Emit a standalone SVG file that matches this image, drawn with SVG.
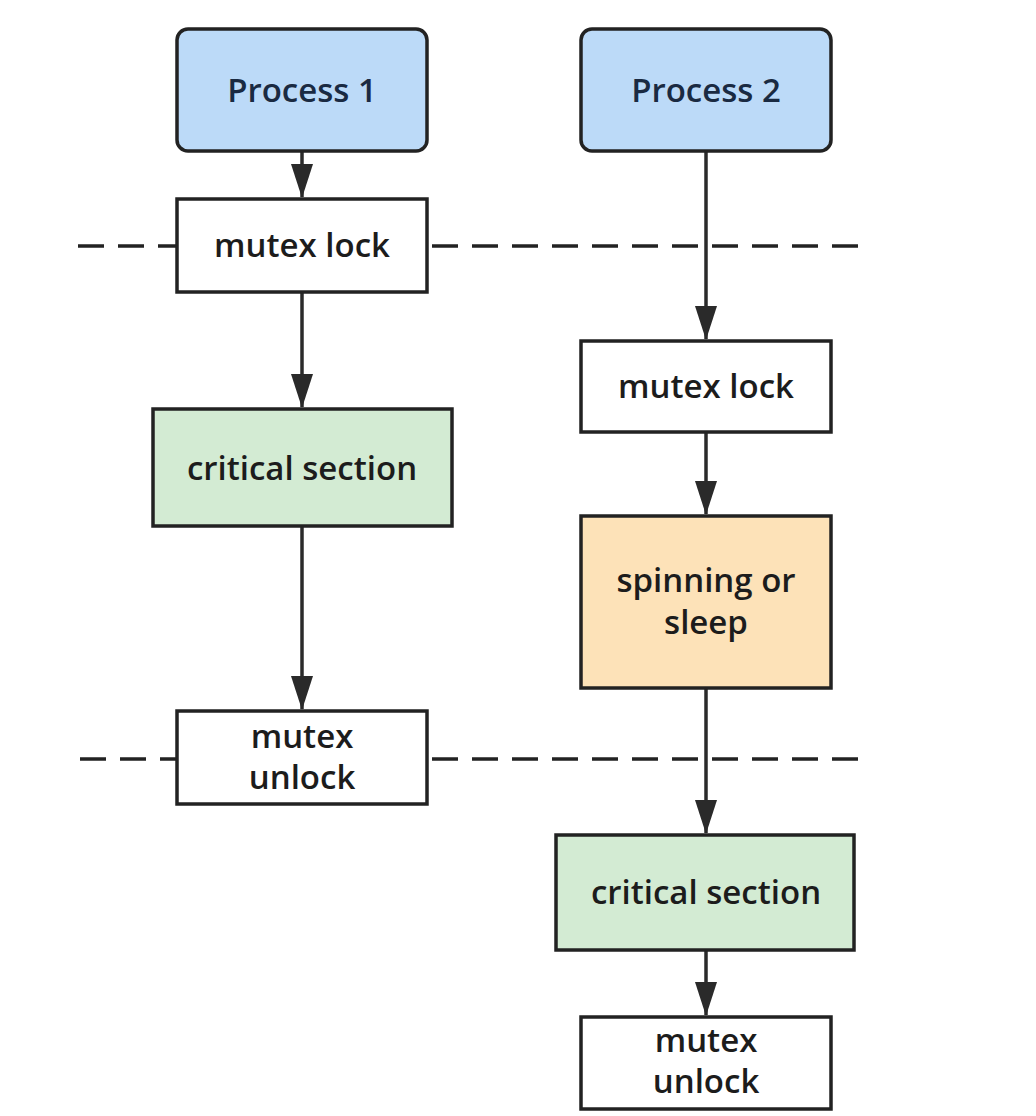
<svg xmlns="http://www.w3.org/2000/svg" width="1036" height="1116" viewBox="0 0 1036 1116">
<defs>
<marker id="ah" markerUnits="userSpaceOnUse" markerWidth="34" markerHeight="22" refX="33" refY="11" orient="auto" viewBox="0 0 34 22">
<path d="M0,0 L34,11 L0,22 Z" fill="#2a2a2a"/>
</marker>
</defs>
<style>
.box{stroke:#222;stroke-width:3.5}
.w{fill:#ffffff}
.b{fill:#bcdaf8}
.g{fill:#d3ebd3}
.o{fill:#fde2b8}
.t{font-family:"Open Sans","Noto Sans",sans-serif;font-weight:600;font-size:33px;fill:#1c1c1c;text-anchor:middle}
.tp{fill:#1a2a42}
.dash{stroke:#222;stroke-width:3.5;stroke-dasharray:26 14;fill:none}
.conn{stroke:#2a2a2a;stroke-width:3.5;fill:none;marker-end:url(#ah)}
</style>
<rect width="1036" height="1116" fill="#ffffff"/>
<g id="separators">
<line class="dash" x1="78" y1="246" x2="176" y2="246"/>
<line class="dash" x1="432" y1="246" x2="860" y2="246"/>
<line class="dash" x1="80" y1="759" x2="176" y2="759"/>
<line class="dash" x1="432" y1="759" x2="860" y2="759"/>
</g>
<g id="connectors">
<line class="conn" x1="302" y1="152" x2="302" y2="197"/>
<line class="conn" x1="302" y1="293" x2="302" y2="407"/>
<line class="conn" x1="302" y1="527" x2="302" y2="709"/>
<line class="conn" x1="706" y1="152" x2="706" y2="339"/>
<line class="conn" x1="706" y1="433" x2="706" y2="514"/>
<line class="conn" x1="706" y1="689" x2="706" y2="833"/>
<line class="conn" x1="706" y1="951" x2="706" y2="1015"/>
</g>
<g id="process1">
<rect class="box b" x="177" y="29" width="250" height="122" rx="11"/>
<text class="t tp" x="302" y="102">Process 1</text>
</g>
<g id="process2">
<rect class="box b" x="581" y="29" width="250" height="122" rx="11"/>
<text class="t tp" x="706" y="102">Process 2</text>
</g>
<g id="lock1">
<rect class="box w" x="177" y="199" width="250" height="93"/>
<text class="t" x="302" y="257">mutex lock</text>
</g>
<g id="crit1">
<rect class="box g" x="153" y="409" width="299" height="117"/>
<text class="t" x="302" y="480">critical section</text>
</g>
<g id="unlock1">
<rect class="box w" x="177" y="711" width="250" height="93"/>
<text class="t" x="302" y="748">mutex</text>
<text class="t" x="302" y="789">unlock</text>
</g>
<g id="lock2">
<rect class="box w" x="581" y="341" width="250" height="91"/>
<text class="t" x="706" y="398">mutex lock</text>
</g>
<g id="spin">
<rect class="box o" x="581" y="516" width="250" height="172"/>
<text class="t" x="706" y="592">spinning or</text>
<text class="t" x="706" y="634">sleep</text>
</g>
<g id="crit2">
<rect class="box g" x="556" y="835" width="298" height="115"/>
<text class="t" x="706" y="904">critical section</text>
</g>
<g id="unlock2">
<rect class="box w" x="581" y="1017" width="250" height="92"/>
<text class="t" x="706" y="1052">mutex</text>
<text class="t" x="706" y="1093">unlock</text>
</g>
</svg>
